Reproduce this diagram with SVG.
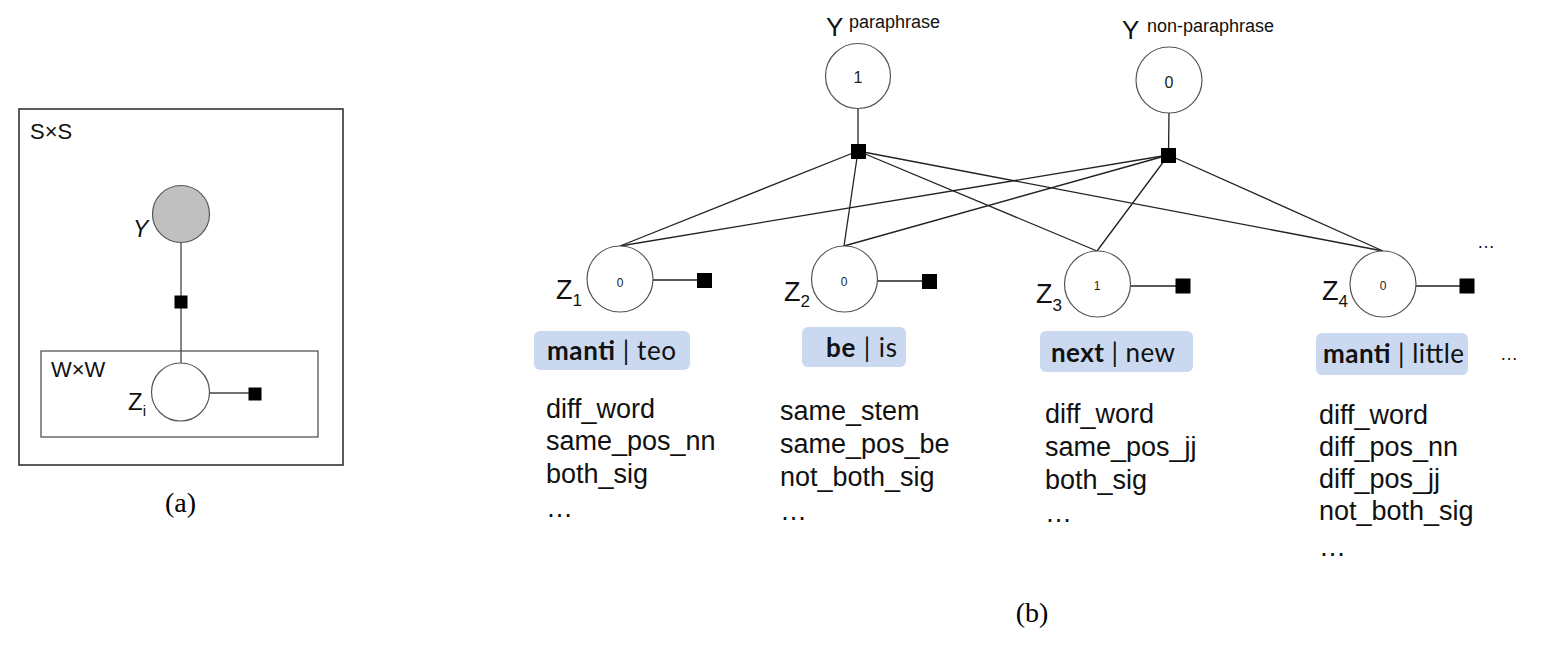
<svg xmlns="http://www.w3.org/2000/svg" width="1552" height="647" viewBox="0 0 1552 647">
<style>
.plate{fill:none;stroke:#333;stroke-width:1.6}
.plate2{fill:none;stroke:#555;stroke-width:1.3}
.node{fill:#fff;stroke:#555;stroke-width:1.2}
.obs{fill:#c0c0c0;stroke:#555;stroke-width:1.2}
.fac{fill:#000}
.edge{stroke:#222;stroke-width:1.3;fill:none}
.edgeA{stroke:#444;stroke-width:1.3;fill:none}
.sans{font-family:"Liberation Sans",Arial,sans-serif;fill:#111}
.serif{font-family:"Liberation Serif","Times New Roman",serif;fill:#000}
.lbl{fill:#cad8f0}
.tag{font-family:Lato,"Open Sans",sans-serif;font-size:26px;fill:#111}
.feat{font-family:"Liberation Sans",Arial,sans-serif;font-size:27px;fill:#111}
.num{font-family:"Liberation Sans",Arial,sans-serif;text-anchor:middle;fill:#222}
</style>

<!-- Panel (a) -->
<g id="panel-a">
  <rect class="plate" x="19" y="109" width="324" height="356"/>
  <text class="sans" x="30" y="139" font-size="22">S×S</text>
  <rect class="plate2" x="41" y="351" width="277" height="86"/>
  <text class="sans" x="51" y="377" font-size="22">W×W</text>
  <g id="a-edges">
    <line class="edgeA" x1="181" y1="243" x2="181" y2="363"/>
    <line class="edgeA" x1="209" y1="393" x2="255" y2="393"/>
  </g>
  <g id="a-Y">
    <circle class="obs" cx="181" cy="214" r="28.5"/>
    <text class="sans" x="133" y="237" font-size="23" font-style="italic">Y</text>
  </g>
  <g id="a-factor"><rect class="fac" x="174.5" y="295.5" width="13" height="13"/></g>
  <g id="a-Z">
    <circle class="node" cx="180.5" cy="392" r="29"/>
    <text class="sans" x="128" y="410" font-size="24">Z<tspan font-size="15" dy="6">i</tspan></text>
  </g>
  <g id="a-zfactor"><rect class="fac" x="248.5" y="387.5" width="13" height="13"/></g>
  <text class="serif" x="180.5" y="512" font-size="28" text-anchor="middle">(a)</text>
</g>

<!-- Panel (b) connectors -->
<g id="connectors">
  <line class="edge" x1="858" y1="108" x2="858" y2="151"/>
  <line class="edge" x1="1169" y1="113" x2="1168.5" y2="155"/>
  <line class="edge" x1="858" y1="151" x2="620" y2="246"/>
  <line class="edge" x1="858" y1="151" x2="844" y2="246"/>
  <line class="edge" x1="858" y1="151" x2="1097" y2="251"/>
  <line class="edge" x1="858" y1="151" x2="1383" y2="251"/>
  <line class="edge" x1="1168.5" y1="155" x2="620" y2="246"/>
  <line class="edge" x1="1168.5" y1="155" x2="844" y2="246"/>
  <line class="edge" x1="1168.5" y1="155" x2="1097" y2="251"/>
  <line class="edge" x1="1168.5" y1="155" x2="1383" y2="251"/>
  <line class="edge" x1="653" y1="280" x2="704" y2="280"/>
  <line class="edge" x1="877" y1="281" x2="929" y2="281"/>
  <line class="edge" x1="1130" y1="286" x2="1183" y2="286"/>
  <line class="edge" x1="1416" y1="286" x2="1467" y2="286"/>
</g>

<!-- Y nodes -->
<g id="Y-para">
  <circle class="node" cx="858" cy="76" r="32.5"/>
  <text class="num" x="858" y="83" font-size="16">1</text>
  <text class="sans" x="826" y="36" font-size="26">Y</text>
  <text class="sans" x="849" y="28" font-size="18">paraphrase</text>
</g>
<g id="Y-nonpara">
  <circle class="node" cx="1169" cy="80" r="33"/>
  <text class="num" x="1169" y="88" font-size="16">0</text>
  <text class="sans" x="1122" y="39" font-size="26">Y</text>
  <text class="sans" x="1147" y="32" font-size="18">non-paraphrase</text>
</g>
<g id="f-para"><rect class="fac" x="851" y="144" width="15" height="15"/></g>
<g id="f-nonpara"><rect class="fac" x="1161" y="148" width="15" height="15"/></g>

<!-- Z nodes -->
<g id="Z1">
  <circle class="node" cx="620" cy="279" r="33"/>
  <text class="num" x="620" y="287" font-size="12">0</text>
  <text class="sans" x="556" y="299" font-size="27">Z<tspan font-size="17" dy="7">1</tspan></text>
  <rect class="fac" x="697" y="273" width="15" height="15"/>
</g>
<g id="Z2">
  <circle class="node" cx="844.5" cy="279" r="33"/>
  <text class="num" x="844" y="286" font-size="12">0</text>
  <text class="sans" x="784" y="301" font-size="27">Z<tspan font-size="17" dy="6">2</tspan></text>
  <rect class="fac" x="922" y="274" width="15" height="15"/>
</g>
<g id="Z3">
  <circle class="node" cx="1097.5" cy="284" r="33"/>
  <text class="num" x="1097" y="290" font-size="12">1</text>
  <text class="sans" x="1036" y="303" font-size="27">Z<tspan font-size="17" dy="8">3</tspan></text>
  <rect class="fac" x="1175.5" y="278.5" width="15" height="15"/>
</g>
<g id="Z4">
  <circle class="node" cx="1383" cy="284" r="33"/>
  <text class="num" x="1383" y="290" font-size="12">0</text>
  <text class="sans" x="1322" y="300" font-size="27">Z<tspan font-size="17" dy="7">4</tspan></text>
  <rect class="fac" x="1459.5" y="278.5" width="15" height="15"/>
</g>
<text class="sans" x="1477" y="248" font-size="18">…</text>

<!-- Word-pair labels -->
<g id="label1">
  <rect class="lbl" x="534" y="331" width="156" height="39" rx="6"/>
  <text class="tag" x="547" y="360" textLength="129" lengthAdjust="spacing"><tspan font-weight="bold">manti</tspan>  |  teo</text>
</g>
<g id="label2">
  <rect class="lbl" x="802" y="327" width="104" height="40" rx="6"/>
  <text class="tag" x="826" y="357" textLength="71" lengthAdjust="spacing"><tspan font-weight="bold">be</tspan> | is</text>
</g>
<g id="label3">
  <rect class="lbl" x="1040" y="331" width="153" height="41" rx="6"/>
  <text class="tag" x="1051" y="362" textLength="124" lengthAdjust="spacing"><tspan font-weight="bold">next</tspan> | new</text>
</g>
<g id="label4">
  <rect class="lbl" x="1316" y="333" width="152" height="42" rx="6"/>
  <text class="tag" x="1323" y="363" textLength="141" lengthAdjust="spacing"><tspan font-weight="bold">manti</tspan> | little</text>
</g>
<text class="sans" x="1500" y="360" font-size="18">…</text>

<!-- Feature lists -->
<g id="feat1">
  <text class="feat" x="546" y="418">diff_word</text>
  <text class="feat" x="546" y="450">same_pos_nn</text>
  <text class="feat" x="546" y="483">both_sig</text>
  <text class="feat" x="546" y="517">…</text>
</g>
<g id="feat2">
  <text class="feat" x="780" y="420">same_stem</text>
  <text class="feat" x="780" y="453">same_pos_be</text>
  <text class="feat" x="780" y="486">not_both_sig</text>
  <text class="feat" x="780" y="520">…</text>
</g>
<g id="feat3">
  <text class="feat" x="1045" y="423">diff_word</text>
  <text class="feat" x="1045" y="456">same_pos_jj</text>
  <text class="feat" x="1045" y="489">both_sig</text>
  <text class="feat" x="1045" y="522">…</text>
</g>
<g id="feat4">
  <text class="feat" x="1319" y="424">diff_word</text>
  <text class="feat" x="1319" y="456">diff_pos_nn</text>
  <text class="feat" x="1319" y="488">diff_pos_jj</text>
  <text class="feat" x="1319" y="520">not_both_sig</text>
  <text class="feat" x="1319" y="556">…</text>
</g>

<text class="serif" x="1032" y="622" font-size="28" text-anchor="middle">(b)</text>
</svg>
